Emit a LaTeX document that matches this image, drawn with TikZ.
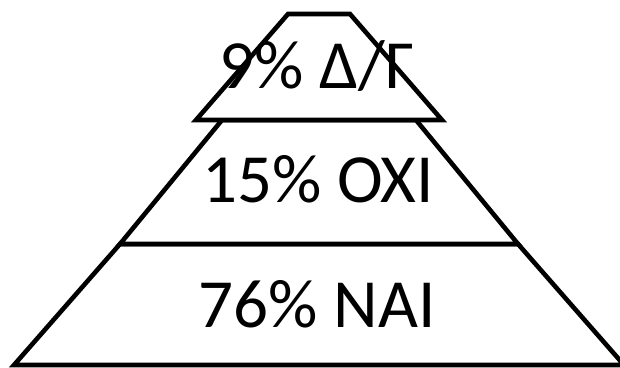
\documentclass[tikz,border=0pt]{standalone}
\usepackage{fontspec}
\setmainfont{Carlito}
\begin{document}
\begin{tikzpicture}[x=1pt,y=-1pt,
  layer/.style={draw=black,line width=4.6pt,fill=white},
  lbl/.style={anchor=base,inner sep=0pt,font=\fontsize{69}{72}\selectfont}]
\useasboundingbox (0,0) rectangle (620,367);
\draw[layer] (14,365) -- (120,244) -- (518,244) -- (624,365) -- cycle;
\draw[layer] (120,244) -- (222,120) -- (416,120) -- (518,244) -- cycle;
\draw[layer] (196,120) -- (288,14) -- (350,14) -- (442,120) -- cycle;
\node[lbl] (top) at (317,88) {9\% Δ/Γ};
\node[lbl] (mid) at (318,202) {15\% ΟΧΙ};
\node[lbl] (bot) at (317,327) {76\% ΝΑΙ};
\end{tikzpicture}
\end{document}
